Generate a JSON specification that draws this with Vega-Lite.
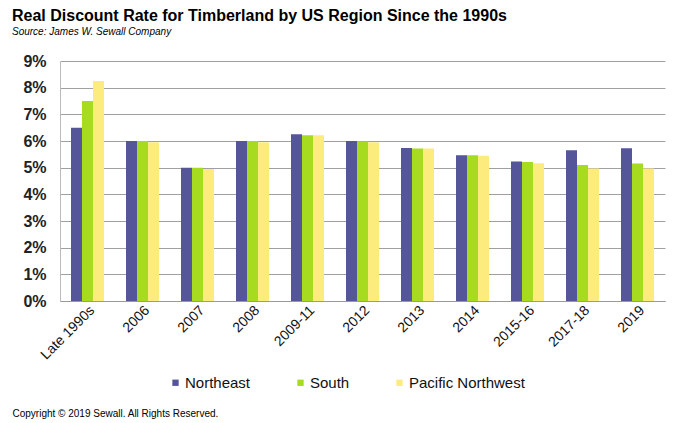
{
  "$schema": "https://vega.github.io/schema/vega-lite/v6.json",
  "width": 605,
  "height": 240,
  "padding": {"left": 12, "top": 8, "right": 12, "bottom": 4},
  "background": "white",
  "title": {
    "text": "Real Discount Rate for Timberland by US Region Since the 1990s",
    "subtitle": "Source:  James W. Sewall Company",
    "anchor": "start",
    "frame": "bounds",
    "font": "Liberation Sans",
    "fontSize": 16,
    "fontWeight": "bold",
    "color": "#000000",
    "subtitleFont": "Liberation Sans",
    "subtitleFontSize": 10,
    "subtitleFontStyle": "italic",
    "subtitleColor": "#000000",
    "subtitlePadding": 3,
    "offset": 16
  },
  "config": {
    "font": "Liberation Sans",
    "view": {"stroke": null}
  },
  "data": {
    "values": [
      {"period": "Late 1990s", "region": "Northeast", "rate": 0.065},
      {"period": "Late 1990s", "region": "South", "rate": 0.075},
      {"period": "Late 1990s", "region": "Pacific Northwest", "rate": 0.0825},
      {"period": "2006", "region": "Northeast", "rate": 0.06},
      {"period": "2006", "region": "South", "rate": 0.06},
      {"period": "2006", "region": "Pacific Northwest", "rate": 0.0595},
      {"period": "2007", "region": "Northeast", "rate": 0.05},
      {"period": "2007", "region": "South", "rate": 0.05},
      {"period": "2007", "region": "Pacific Northwest", "rate": 0.0495},
      {"period": "2008", "region": "Northeast", "rate": 0.06},
      {"period": "2008", "region": "South", "rate": 0.06},
      {"period": "2008", "region": "Pacific Northwest", "rate": 0.0595},
      {"period": "2009-11", "region": "Northeast", "rate": 0.0625},
      {"period": "2009-11", "region": "South", "rate": 0.0622},
      {"period": "2009-11", "region": "Pacific Northwest", "rate": 0.0622},
      {"period": "2012", "region": "Northeast", "rate": 0.06},
      {"period": "2012", "region": "South", "rate": 0.0598},
      {"period": "2012", "region": "Pacific Northwest", "rate": 0.0595},
      {"period": "2013", "region": "Northeast", "rate": 0.0574},
      {"period": "2013", "region": "South", "rate": 0.0572},
      {"period": "2013", "region": "Pacific Northwest", "rate": 0.0572},
      {"period": "2014", "region": "Northeast", "rate": 0.0547},
      {"period": "2014", "region": "South", "rate": 0.0547},
      {"period": "2014", "region": "Pacific Northwest", "rate": 0.0545},
      {"period": "2015-16", "region": "Northeast", "rate": 0.0523},
      {"period": "2015-16", "region": "South", "rate": 0.0521},
      {"period": "2015-16", "region": "Pacific Northwest", "rate": 0.0517},
      {"period": "2017-18", "region": "Northeast", "rate": 0.0565},
      {"period": "2017-18", "region": "South", "rate": 0.051},
      {"period": "2017-18", "region": "Pacific Northwest", "rate": 0.0497},
      {"period": "2019", "region": "Northeast", "rate": 0.0573},
      {"period": "2019", "region": "South", "rate": 0.0516},
      {"period": "2019", "region": "Pacific Northwest", "rate": 0.0497}
    ]
  },
  "mark": {"type": "bar"},
  "encoding": {
    "x": {
      "field": "period",
      "type": "nominal",
      "sort": null,
      "scale": {"paddingInner": 0.4, "paddingOuter": 0.2},
      "axis": {
        "title": "Copyright © 2019 Sewall.  All Rights Reserved.",
        "titleFont": "Liberation Sans",
        "titleFontSize": 10,
        "titleFontWeight": "normal",
        "titleColor": "#000000",
        "titleAnchor": "start",
        "titleAlign": "left",
        "titleBaseline": "top",
        "titleX": -48,
        "titleY": 107,
        "labelAngle": -45,
        "labelAlign": "right",
        "labelBaseline": "top",
        "labelFontSize": 14,
        "labelColor": "#111111",
        "labelPadding": 2,
        "domainColor": "#999999",
        "ticks": false,
        "grid": false
      }
    },
    "xOffset": {
      "field": "region",
      "type": "nominal",
      "sort": ["Northeast", "South", "Pacific Northwest"],
      "scale": {"paddingInner": 0, "paddingOuter": 0}
    },
    "y": {
      "field": "rate",
      "type": "quantitative",
      "scale": {"domain": [0, 0.09]},
      "axis": {
        "title": null,
        "format": ".0%",
        "values": [0, 0.01, 0.02, 0.03, 0.04, 0.05, 0.06, 0.07, 0.08, 0.09],
        "labelFontSize": 16,
        "labelFontWeight": "bold",
        "labelColor": "#222222",
        "labelPadding": 14,
        "ticks": false,
        "domainColor": "#bbbbbb",
        "gridColor": "#a0a0a0",
        "gridWidth": 1
      }
    },
    "color": {
      "field": "region",
      "type": "nominal",
      "sort": ["Northeast", "South", "Pacific Northwest"],
      "scale": {
        "domain": ["Northeast", "South", "Pacific Northwest"],
        "range": ["#55559A", "#A6DB1F", "#FCEC7E"]
      },
      "legend": {
        "title": null,
        "orient": "none",
        "direction": "horizontal",
        "legendX": 108,
        "legendY": 314,
        "symbolType": "square",
        "symbolSize": 40,
        "symbolStrokeWidth": 0,
        "labelFontSize": 15,
        "labelColor": "#111111",
        "labelOffset": 2,
        "columnPadding": 42
      }
    }
  }
}
